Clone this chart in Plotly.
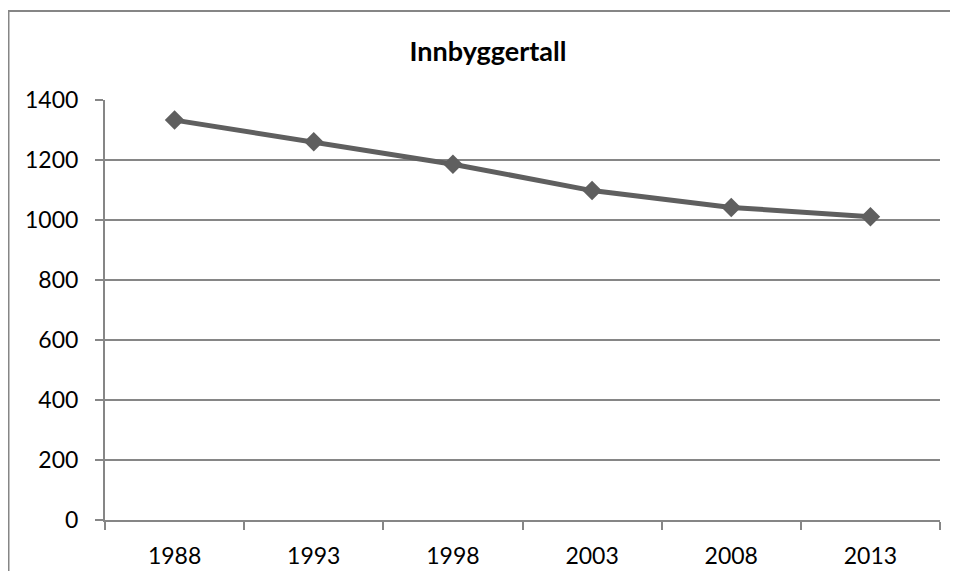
import plotly.graph_objects as go

years = ["1988", "1993", "1998", "2003", "2008", "2013"]
innbyggere = [1333, 1261, 1186, 1098, 1042, 1011]
y_ticks = [0, 200, 400, 600, 800, 1000, 1200, 1400]

GRAY = "#868686"
LINE = "#5f5f5f"
FONT = "Lato, Open Sans, sans-serif"

fig = go.Figure()
fig.add_trace(go.Scatter(
    x=years, y=innbyggere, mode="lines+markers",
    line=dict(color=LINE, width=5),
    marker=dict(symbol="diamond", size=15, color=LINE),
    showlegend=False,
    cliponaxis=False,
))

# page body has an 8px margin; figure placed at (8, 8) and kept inside the viewport
OFF = 8
W, H = 959 - 2 * OFF, 580 - 2 * OFF
L, T = 105 - OFF, 100 - OFF
R = W - (940 - OFF)
B = H - (520 - OFF)
pw, ph = W - L - R, H - T - B

def px_x(x):
    return (x - OFF - L) / pw

def px_y(y):
    return (H - B - (y - OFF)) / ph

bx, by_top, by_bot, bx_right = px_x(8.5), px_y(11), px_y(571), px_x(950)
border_path = f"M {bx} {by_bot} L {bx} {by_top} L {bx_right} {by_top}"

fig.update_layout(
    width=W, height=H, autosize=False,
    margin=dict(l=L, r=R, t=T, b=B, pad=0),
    paper_bgcolor="white", plot_bgcolor="white",
    font=dict(family=FONT, size=23, color="#000000"),
    title=dict(text="<b>Innbyggertall</b>", x=(488 - OFF) / W, xref="container", xanchor="center",
               y=1 - (52 - OFF) / H, yref="container", yanchor="middle",
               font=dict(family=FONT, size=27, color="#000000"),
               automargin=False),
    xaxis=dict(type="category", range=[-0.5, 5.5], tickson="boundaries",
               ticks="outside", ticklen=8, tickwidth=2, tickcolor=GRAY,
               showline=True, linecolor=GRAY, linewidth=2,
               showgrid=False, zeroline=False, ticklabelstandoff=14,
               automargin=False),
    yaxis=dict(range=[0, 1400], tickvals=y_ticks, ticktext=[str(v) for v in y_ticks],
               ticks="outside", ticklen=8, tickwidth=2, tickcolor=GRAY,
               showline=True, linecolor=GRAY, linewidth=2,
               showgrid=True, gridcolor=GRAY, gridwidth=1.5, zeroline=False,
               ticklabelstandoff=12, automargin=False),
    shapes=[dict(type="path", xref="paper", yref="paper", path=border_path,
                 line=dict(color=GRAY, width=2), layer="below")],
)

fig.write_html("out.html")
